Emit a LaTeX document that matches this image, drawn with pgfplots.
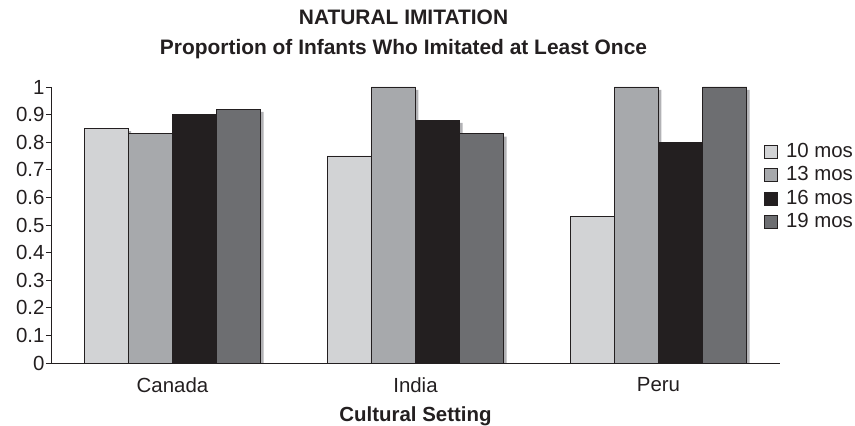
\documentclass[border=0pt]{standalone}
\usepackage{fontspec}
\setmainfont{Liberation Sans}
\usepackage{pgfplots}
\usepackage{pgfplotstable}
\pgfplotsset{compat=1.18}

\definecolor{c10}{RGB}{210,211,213}
\definecolor{c13}{RGB}{167,169,172}
\definecolor{c16}{RGB}{35,31,32}
\definecolor{c19}{RGB}{109,110,113}
\definecolor{shd}{RGB}{178,178,181}
\definecolor{ink}{RGB}{35,31,32}

% proportion of infants who imitated, by cultural setting (1 Canada, 2 India, 3 Peru)
\pgfplotstableread{
cat m10  m13  m16  m19
1   0.85 0.83 0.90 0.92
2   0.75 1.00 0.88 0.83
3   0.53 1.00 0.80 1.00
}\imit

\begin{document}
\begin{tikzpicture}[x=1bp,y=1bp]
\begin{axis}[
    at={(0,0)}, anchor=origin,
    scale only axis,
    width=729bp, height=276bp,
    xmin=0.5, xmax=3.5,
    ymin=0, ymax=1,
    axis x line*=bottom,
    axis y line*=left,
    axis line style={-, ink, line width=0.9bp},
    ybar=0pt,
    bar width=44.2bp,
    xtick={1,2,3},
    xticklabels={Canada,India,Peru},
    major x tick style={draw=none},
    extra x ticks={0.5,1.5,2.5,3.5},
    extra x tick labels={},
    extra x tick style={major tick length=5bp, tick align=outside, tick style={ink, line width=0.9bp}},
    ytick={0,0.1,0.2,0.3,0.4,0.5,0.6,0.7,0.8,0.9,1},
    yticklabels={0,0.1,0.2,0.3,0.4,0.5,0.6,0.7,0.8,0.9,1},
    tick align=outside,
    major tick length=5bp,
    ytick style={ink, line width=0.9bp},
    ticklabel style={font=\fontsize{20.5}{23}\selectfont, text=ink},
    yticklabel style={xshift=2bp},
    xticklabel style={yshift=-6bp},
    xlabel={\bfseries Cultural Setting},
    xlabel style={font=\fontsize{20.5}{23}\selectfont, text=ink,
        at={(rel axis cs:0.5,0)}, anchor=base, yshift=-58bp},
    legend style={at={(713bp,221bp)}, anchor=north west, draw=none, fill=none,
        inner sep=0pt, font=\fontsize{20.5}{23}\selectfont, text=ink,
        row sep=4.5bp, column sep=0bp,
        nodes={inner sep=0pt, text height=15bp, text depth=4bp, anchor=west}},
    legend cell align=left,
    legend image code/.code={\draw[#1, draw=ink, line width=0.7bp] (0bp,-6.5bp) rectangle (13bp,6.5bp);
        \path (21bp,0);},
    shadow/.style={forget plot, fill=shd, draw=none, xshift=2.8bp, yshift=-2.8bp},
    bars/.style={draw=ink, line width=0.9bp},
    clip=true,
]
% shadows first
\addplot[shadow, bar shift=-66.3bp] table[x=cat, y=m10] {\imit};
\addplot[shadow, bar shift=-22.1bp] table[x=cat, y=m13] {\imit};
\addplot[shadow, bar shift=22.1bp]  table[x=cat, y=m16] {\imit};
\addplot[shadow, bar shift=66.3bp]  table[x=cat, y=m19] {\imit};
% bars
\addplot[bars, fill=c10, bar shift=-66.3bp] table[x=cat, y=m10] {\imit};
\addlegendentry{10 mos}
\addplot[bars, fill=c13, bar shift=-22.1bp] table[x=cat, y=m13] {\imit};
\addlegendentry{13 mos}
\addplot[bars, fill=c16, bar shift=22.1bp] table[x=cat, y=m16] {\imit};
\addlegendentry{16 mos}
\addplot[bars, fill=c19, bar shift=66.3bp] table[x=cat, y=m19] {\imit};
\addlegendentry{19 mos}
\end{axis}
\node[font=\fontsize{21}{25}\selectfont\bfseries, text=ink, anchor=base] at (352.5bp,338bp) {NATURAL IMITATION};
\node[font=\fontsize{21}{25}\selectfont\bfseries, text=ink, anchor=base] at (352.5bp,308bp) {Proportion of Infants Who Imitated at Least Once};
\pgfresetboundingbox
\path[use as bounding box] (-51bp,-63bp) rectangle (804bp,363bp);
\end{tikzpicture}
\end{document}
